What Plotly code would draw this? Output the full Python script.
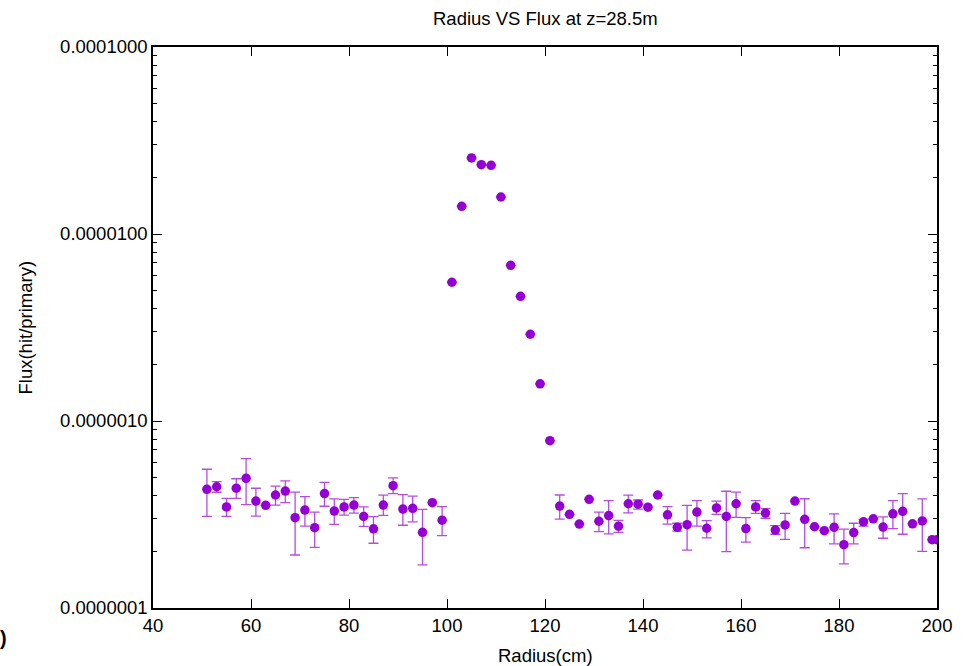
import plotly.graph_objects as go

radius_left = [51, 53, 55, 57, 59, 61, 63, 65, 67, 69, 71, 73, 75, 77, 79, 81, 83, 85, 87, 89, 91, 93, 95, 97, 99]
flux_left = [4.31, 4.45, 3.47, 4.37, 4.94, 3.73, 3.54, 4.02, 4.22, 3.04, 3.34, 2.69, 4.09, 3.30, 3.47, 3.55, 3.09,
             2.65, 3.55, 4.51, 3.38, 3.41, 2.54, 3.66, 2.95]
hi_left = [5.52, 4.74, 3.86, 4.91, 6.29, 4.37, None, 4.49, 4.78, 4.17, 3.94, 3.26, 4.70, 3.83, 3.81, 3.89, 3.47,
           3.08, 4.01, 4.96, 4.04, 3.97, 3.37, None, 3.48]
lo_left = [3.09, 4.16, 3.09, 3.86, 3.57, 3.10, None, 3.55, 3.66, 1.92, 2.74, 2.11, 3.50, 2.80, 3.14, 3.22, 2.73,
           2.22, 3.13, 4.09, 2.77, 2.89, 1.70, None, 2.44]

radius_peak = [101, 103, 105, 107, 109, 111, 113, 115, 117, 119, 121]
flux_peak = [55.2, 140.7, 255.0, 234.8, 233.1, 157.7, 68.0, 46.4, 29.1, 15.8, 7.85]

radius_right = [123, 125, 127, 129, 131, 133, 135, 137, 139, 141, 143, 145, 147, 149, 151, 153, 155, 157, 159, 161,
                163, 165, 167, 169, 171, 173, 175, 177, 179, 181, 183, 185, 187, 189, 191, 193, 195, 197, 199, 200]
flux_right = [3.51, 3.17, 2.81, 3.81, 2.91, 3.12, 2.74, 3.61, 3.59, 3.46, 4.02, 3.15, 2.70, 2.79, 3.26, 2.67, 3.43,
              3.09, 3.61, 2.66, 3.47, 3.22, 2.61, 2.78, 3.73, 2.98, 2.72, 2.59, 2.70, 2.18, 2.53, 2.89, 3.00, 2.71,
              3.19, 3.29, 2.82, 2.92, 2.32, 2.32]
hi_right = [4.02, None, None, None, 3.26, 3.75, 2.94, 4.01, 3.78, None, None, 3.48, 2.84, 3.54, 3.75, 2.93, 3.73,
            4.21, 4.17, 3.04, 3.75, 3.40, 2.76, 3.21, None, 3.84, None, None, 3.19, 2.64, 2.84, 2.98, None, 3.07,
            3.75, 4.09, None, 3.83, None, None]
lo_right = [2.99, None, None, None, 2.56, 2.49, 2.54, 3.23, 3.38, None, None, 2.81, 2.58, 2.04, 2.74, 2.37, 3.17,
            2.00, 3.05, 2.25, 3.21, 3.02, 2.48, 2.33, None, 2.10, None, None, 2.20, 1.72, 2.20, 2.74, None, 2.36,
            2.66, 2.48, None, 2.01, None, None]

UNIT = 1e-7  # values above are in units of 1e-7 hit/primary

y_tickvals = [1e-7, 1e-6, 1e-5, 1e-4]
y_ticktext = ["0.0000001", "0.0000010", "0.0000100", "0.0001000"]
x_tickvals = [40, 60, 80, 100, 120, 140, 160, 180, 200]

radius = radius_left + radius_peak + radius_right
flux = [v * UNIT for v in flux_left + flux_peak + flux_right]
hi = hi_left + [None] * len(radius_peak) + hi_right
lo = lo_left + [None] * len(radius_peak) + lo_right
err_plus = [(h * UNIT - f) if h is not None else None for h, f in zip(hi, flux)]
err_minus = [(f - l * UNIT) if l is not None else None for l, f in zip(lo, flux)]

minor_vals = [m * 10.0 ** e for e in range(-7, -4) for m in range(2, 10)]

FONT = "Liberation Sans, Arial, Helvetica, sans-serif"

fig = go.Figure()
fig.add_trace(go.Scatter(
    x=radius, y=flux, mode="markers",
    marker=dict(color="#9400D3", size=9.5, symbol="circle"),
    error_y=dict(type="data", symmetric=False, array=err_plus, arrayminus=err_minus,
                 color="rgba(148,0,211,0.7)", thickness=1.3, width=5),
    showlegend=False,
))

fig.update_layout(
    width=972, height=666,
    margin=dict(l=153, r=35, t=47, b=58),
    plot_bgcolor="white", paper_bgcolor="white",
    font=dict(family=FONT, size=18.5, color="black"),
    xaxis=dict(range=[40, 200], tickmode="array", tickvals=x_tickvals,
               ticks="inside", ticklen=9, tickwidth=1, tickcolor="black",
               showline=True, linecolor="black", linewidth=1.5, mirror="ticks",
               showgrid=False, zeroline=False),
    yaxis=dict(type="log", range=[-7, -4], tickmode="array", tickvals=y_tickvals, ticktext=y_ticktext,
               ticks="inside", ticklen=9, tickwidth=1, tickcolor="black",
               minor=dict(tickmode="array", tickvals=minor_vals, ticks="inside", ticklen=4,
                          tickcolor="black", tickwidth=1, showgrid=False),
               showline=True, linecolor="black", linewidth=1.5, mirror="ticks",
               showgrid=False, zeroline=False),
    annotations=[
        dict(text="Radius VS Flux at z=28.5m", xref="paper", yref="paper", x=0.5, y=1,
             yshift=29, showarrow=False, font=dict(size=18.5), xanchor="center", yanchor="middle"),
        dict(text="Radius(cm)", xref="paper", yref="paper", x=0.5, y=0,
             yshift=-47, showarrow=False, font=dict(size=18.5), xanchor="center", yanchor="middle"),
        dict(text="Flux(hit/primary)", xref="paper", yref="paper", x=0, y=0.5,
             xshift=-128, showarrow=False, font=dict(size=18.5), textangle=-90,
             xanchor="center", yanchor="middle"),
        dict(text="<b>)</b>", xref="paper", yref="paper", x=0, y=0,
             xshift=-155, yshift=-30, showarrow=False, font=dict(size=20),
             xanchor="left", yanchor="middle"),
    ],
)

fig.write_html("out.html", config={"displayModeBar": False},
               post_script="document.body.style.margin='0';document.body.style.overflow='hidden';")
